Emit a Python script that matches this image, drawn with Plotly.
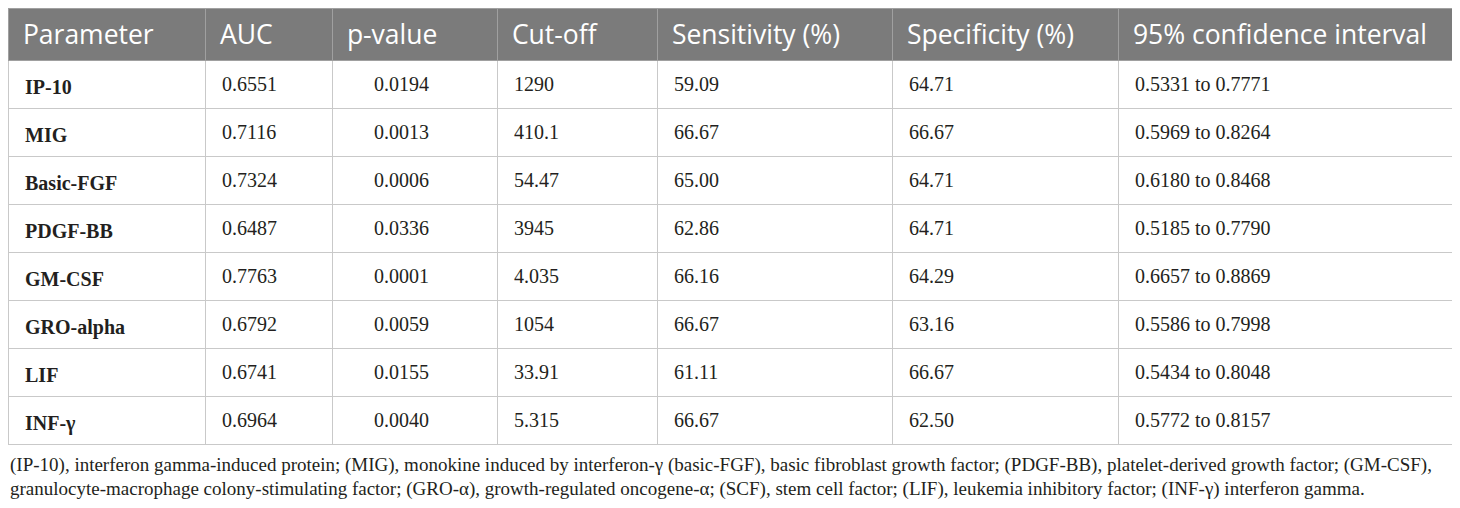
import plotly.graph_objects as go

# table content
headers = ["Parameter", "AUC", "p-value", "Cut-off", "Sensitivity (%)",
           "Specificity (%)", "95% confidence interval"]
parameters = ["IP-10", "MIG", "Basic-FGF", "PDGF-BB", "GM-CSF",
              "GRO-alpha", "LIF", "INF-γ"]
auc = ["0.6551", "0.7116", "0.7324", "0.6487", "0.7763", "0.6792", "0.6741", "0.6964"]
p_values = ["0.0194", "0.0013", "0.0006", "0.0336", "0.0001", "0.0059", "0.0155", "0.0040"]
cut_off = ["1290", "410.1", "54.47", "3945", "4.035", "1054", "33.91", "5.315"]
sensitivity = ["59.09", "66.67", "65.00", "62.86", "66.16", "66.67", "61.11", "66.67"]
specificity = ["64.71", "66.67", "64.71", "64.71", "64.29", "63.16", "66.67", "62.50"]
ci = ["0.5331 to 0.7771", "0.5969 to 0.8264", "0.6180 to 0.8468", "0.5185 to 0.7790",
      "0.6657 to 0.8869", "0.5586 to 0.7998", "0.5434 to 0.8048", "0.5772 to 0.8157"]

footnote = [
    "(IP-10), interferon gamma-induced protein; (MIG), monokine induced by interferon-γ (basic-FGF), "
    "basic fibroblast growth factor; (PDGF-BB), platelet-derived growth factor; (GM-CSF),",
    "granulocyte-macrophage colony-stimulating factor; (GRO-α), growth-regulated oncogene-α; "
    "(SCF), stem cell factor; (LIF), leukemia inhibitory factor; (INF-γ) interferon gamma.",
]

# the page body has an 8px margin, so the figure is sized to fit inside it
W, H = 1452, 492
col_px = [197, 127, 165, 160, 235, 226, 336]
grid = "#c9c9c9"
text_drop = 8  # plotly puts cell text at the top; push it to the middle

pad = "\u00a0\u2009"
cells = [
    [f"<b>{pad}{p}</b>" for p in parameters],
    [pad + v for v in auc],
    ["\u00a0" * 5 + pad + v for v in p_values],
    [pad + v for v in cut_off],
    [pad + v for v in sensitivity],
    [pad + v for v in specificity],
    [pad + v for v in ci],
]
header_vals = ["\u00a0" + h for h in headers]
blank_cells = [[""] * len(parameters) for _ in headers]
head_font = dict(family="Open Sans", size=26.5)
body_font = dict(family="Liberation Serif", size=20)

# layer 1: fills and grid lines
grid_table = go.Table(
    columnwidth=col_px,
    header=dict(values=[""] * len(headers), fill_color="#7b7b7b",
                line=dict(color="#a0a0a0", width=1),
                font=head_font, align="left", height=52),
    cells=dict(values=blank_cells, fill_color="white",
               line=dict(color=grid, width=1),
               font=body_font, align="left", height=48),
    domain=dict(x=[0, 1], y=[0, 1]),
)

# layer 2: the text, dropped a few pixels
text_table = go.Table(
    columnwidth=col_px,
    header=dict(values=header_vals, fill_color="rgba(0,0,0,0)",
                line=dict(color="rgba(0,0,0,0)", width=0),
                font=dict(**head_font, color="white"),
                align="left", height=52),
    cells=dict(values=cells, fill_color="rgba(0,0,0,0)",
               line=dict(color="rgba(0,0,0,0)", width=0),
               font=dict(**body_font, color="#231f20"),
               align="left", height=48),
    domain=dict(x=[0, 1], y=[0, 1 - text_drop / H]),
)

fig = go.Figure([grid_table, text_table])

for i, line in enumerate(footnote):
    fig.add_annotation(
        x=0, y=1 - (457 + 24 * i) / H, xref="paper", yref="paper",
        text=line, showarrow=False, xanchor="left", yanchor="middle",
        font=dict(family="Liberation Serif", size=19, color="#231f20"),
    )

fig.update_layout(
    width=W, height=H,
    margin=dict(l=0, r=6, t=0, b=0),
    paper_bgcolor="white",
)

fig.write_html("out.html")
